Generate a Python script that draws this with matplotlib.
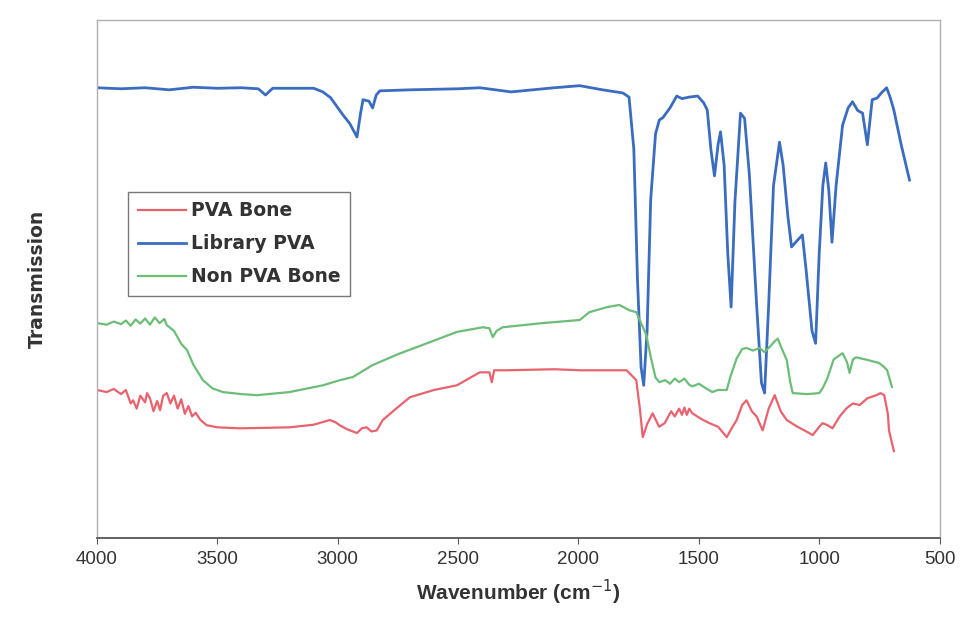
import numpy as np
import matplotlib
matplotlib.use('Agg')
from matplotlib import pyplot as plt

plt.rcParams['font.family'] = ['Liberation Sans', 'DejaVu Sans']

# Library PVA spectrum (wavenumber, transmission)
lib_wn = [4000, 3900, 3800, 3700, 3600, 3500, 3400, 3330, 3300, 3270, 3100, 3062, 3030, 2979,
          2950, 2920, 2905, 2895, 2870, 2855, 2840, 2825, 2700, 2500, 2410, 2280, 2100, 1995,
          1900, 1816, 1790, 1770, 1755, 1740, 1729, 1715, 1700, 1680, 1664, 1650, 1620, 1592,
          1570, 1540, 1505, 1480, 1465, 1450, 1435, 1420, 1410, 1395, 1380, 1366, 1350, 1327,
          1310, 1290, 1260, 1240, 1227, 1210, 1190, 1165, 1150, 1130, 1115, 1090, 1070, 1055,
          1030, 1015, 1000, 985, 973, 960, 947, 930, 903, 880, 862, 840, 820, 800, 780, 760,
          740, 720, 705, 690, 660, 625]
lib_t = [86.9, 86.7, 86.9, 86.5, 87.0, 86.8, 86.9, 86.7, 85.5, 86.8, 86.8, 86.1, 85.0, 81.7,
         80.0, 77.4, 82.0, 84.6, 84.3, 83.0, 85.5, 86.3, 86.5, 86.7, 86.9, 86.1, 86.9, 87.3,
         86.5, 85.9, 85.1, 75.0, 50.0, 33.0, 29.5, 40.0, 65.3, 78.0, 80.7, 81.1, 83.0, 85.3,
         84.8, 85.1, 85.3, 84.0, 82.6, 75.0, 69.9, 76.0, 78.4, 72.0, 55.0, 44.6, 65.0, 82.0,
         81.0, 70.0, 45.0, 30.0, 28.0, 45.0, 68.0, 76.4, 72.0, 62.0, 56.2, 57.5, 58.5, 52.0,
         40.0, 37.6, 55.0, 68.0, 72.4, 67.0, 57.1, 68.0, 79.7, 83.0, 84.2, 82.5, 82.0, 75.9,
         84.6, 84.9, 86.0, 86.9, 85.0, 82.6, 76.0, 69.1]

# Non PVA Bone
non_wn = [4000, 3960, 3930, 3900, 3880, 3860, 3840, 3820, 3800, 3780, 3760, 3740, 3720, 3710,
          3680, 3650, 3626, 3600, 3560, 3520, 3477, 3400, 3335, 3200, 3062, 2990, 2937, 2855,
          2750, 2647, 2505, 2397, 2370, 2356, 2340, 2315, 2150, 1995, 1955, 1880, 1830, 1790,
          1760, 1740, 1718, 1700, 1680, 1664, 1640, 1620, 1600, 1582, 1560, 1540, 1527, 1500,
          1470, 1444, 1420, 1384, 1370, 1343, 1320, 1302, 1275, 1248, 1227, 1200, 1185, 1172,
          1155, 1135, 1120, 1110, 1050, 1000, 985, 966, 940, 903, 885, 874, 860, 847, 800, 751,
          730, 718, 698]
non_t = [41.5, 41.2, 41.8, 41.3, 42.0, 41.0, 42.2, 41.4, 42.4, 41.2, 42.6, 41.5, 42.3, 41.1,
         40.0, 37.5, 36.3, 33.5, 30.5, 28.9, 28.2, 27.8, 27.6, 28.2, 29.5, 30.5, 31.1, 33.4,
         35.5, 37.3, 39.8, 40.7, 40.5, 38.8, 40.0, 40.7, 41.5, 42.1, 43.6, 44.6, 45.0, 44.0,
         43.6, 41.5, 39.2, 35.0, 31.0, 30.1, 30.5, 29.8, 30.8, 30.1, 30.8, 29.6, 29.3, 29.8,
         28.9, 28.2, 28.6, 28.6, 31.0, 34.7, 36.5, 36.7, 36.2, 36.7, 35.9, 37.2, 38.0, 38.5,
         36.5, 34.4, 30.0, 28.0, 27.8, 28.0, 29.0, 30.9, 34.5, 35.7, 34.0, 31.9, 34.5, 34.9,
         34.4, 33.8, 33.0, 32.4, 29.2]

# PVA Bone
pva_wn = [4000, 3960, 3930, 3900, 3880, 3860, 3850, 3835, 3820, 3800, 3792, 3780, 3765, 3750,
          3738, 3725, 3710, 3695, 3680, 3665, 3650, 3635, 3620, 3605, 3590, 3570, 3544, 3500,
          3406, 3300, 3200, 3100, 3033, 3010, 2992, 2960, 2920, 2900, 2880, 2860, 2838, 2813,
          2755, 2700, 2600, 2505, 2410, 2370, 2360, 2350, 2300, 2100, 1995, 1900, 1800, 1760,
          1745, 1733, 1715, 1692, 1665, 1642, 1615, 1600, 1582, 1570, 1560, 1550, 1540, 1527,
          1490, 1456, 1420, 1384, 1360, 1343, 1320, 1302, 1280, 1260, 1235, 1210, 1185, 1160,
          1135, 1090, 1050, 1027, 1000, 986, 965, 945, 915, 886, 860, 832, 800, 762, 745, 730,
          715, 710, 690]
pva_t = [28.6, 28.2, 28.8, 27.8, 28.6, 26.0, 26.6, 25.0, 27.5, 26.2, 28.0, 27.0, 24.5, 26.5,
         24.7, 27.5, 28.0, 26.0, 27.5, 25.0, 26.8, 24.0, 25.5, 23.5, 24.2, 22.8, 21.8, 21.4,
         21.2, 21.3, 21.4, 21.9, 22.8, 22.4, 21.8, 21.0, 20.3, 21.2, 21.4, 20.6, 20.8, 22.8,
         25.1, 27.2, 28.6, 29.5, 32.0, 32.0, 30.1, 32.4, 32.4, 32.6, 32.4, 32.4, 32.4, 30.5,
         25.0, 19.5, 22.0, 24.1, 21.5, 22.2, 24.5, 23.5, 25.0, 23.8, 25.2, 23.8, 25.0, 24.1,
         23.0, 22.2, 21.5, 19.5, 21.5, 22.8, 25.7, 26.6, 24.5, 23.5, 20.8, 25.0, 27.6, 24.5,
         22.8, 21.5, 20.5, 19.9, 21.5, 22.2, 21.8, 21.2, 23.5, 25.1, 26.0, 25.7, 27.0, 27.6,
         28.0, 27.6, 24.0, 20.8, 16.8]

xticks = [4000, 3500, 3000, 2500, 2000, 1500, 1000, 500]

fig = plt.figure(figsize=(9.63, 6.4), dpi=100)
ax = fig.add_axes([0.1007, 0.159, 0.875, 0.81])

ax.plot(pva_wn, pva_t, color='#e8636e', lw=1.6, label='PVA Bone')
ax.plot(lib_wn, lib_t, color='#3a6cc0', lw=2.0, label='Library PVA')
ax.plot(non_wn, non_t, color='#6cbd78', lw=1.6, label='Non PVA Bone')

ax.set_xlim(4000, 500)
ax.set_ylim(0, 100)
ax.set_xticks(xticks)
ax.set_xticklabels([str(t) for t in xticks], fontsize=13.5, color='#333333')
ax.set_yticks([])
ax.tick_params(axis='x', direction='out', length=4, color='#555555', pad=5)

for s in ['top', 'right', 'left']:
    ax.spines[s].set_color('#b0b0b0')
    ax.spines[s].set_linewidth(1.0)
ax.spines['bottom'].set_color('#555555')
ax.spines['bottom'].set_linewidth(1.3)

ax.set_xlabel('Wavenumber (cm$^{-1}$)', fontsize=15, fontweight='bold', color='#333333', labelpad=7)
ax.set_ylabel('Transmission', family='DejaVu Sans', fontsize=13.5, fontweight='bold',
              color='#333333', labelpad=36)

leg = ax.legend(loc='upper left', bbox_to_anchor=(0.037, 0.668),
                prop={'family': 'DejaVu Sans', 'weight': 'bold', 'size': 13.5},
                handlelength=2.6, handletextpad=0.25, labelspacing=0.75,
                fancybox=False, framealpha=1, borderpad=0.5, borderaxespad=0)
leg.get_frame().set_edgecolor('#777777')
leg.get_frame().set_linewidth(1.0)
for t in leg.get_texts():
    t.set_color('#333333')

plt.savefig('out.png', dpi=100)
